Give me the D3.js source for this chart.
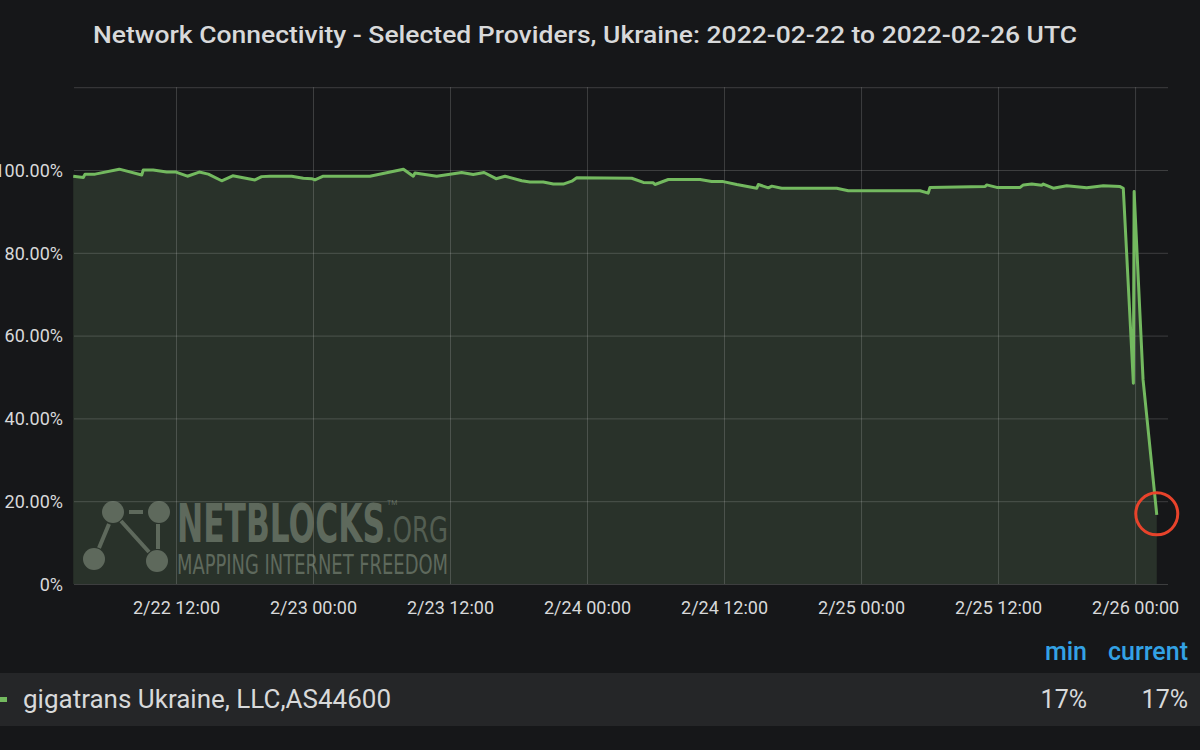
<!DOCTYPE html>
<html>
<head>
<meta charset="utf-8">
<script src="https://cdn.jsdelivr.net/npm/d3@7"></script>
<style>
  html, body { margin: 0; padding: 0; background: #161719; }
  svg { display: block; font-family: Roboto, "Open Sans", sans-serif; }
</style>
</head>
<body>
<svg class="chart"></svg>
<script>

// connectivity samples, gigatrans Ukraine (AS44600), UTC
var times = [
	"2022-02-22T03:00", "2022-02-22T03:53", "2022-02-22T04:02", "2022-02-22T04:55", "2022-02-22T07:02",
	"2022-02-22T09:00", "2022-02-22T09:08", "2022-02-22T10:00", "2022-02-22T11:11", "2022-02-22T12:00",
	"2022-02-22T13:00", "2022-02-22T14:02", "2022-02-22T14:50", "2022-02-22T16:00", "2022-02-22T16:58",
	"2022-02-22T18:55", "2022-02-22T19:30", "2022-02-22T20:14", "2022-02-22T22:08", "2022-02-22T23:09",
	"2022-02-22T23:53", "2022-02-23T00:10", "2022-02-23T00:54", "2022-02-23T04:59", "2022-02-23T07:55",
	"2022-02-23T08:47", "2022-02-23T08:56", "2022-02-23T10:50", "2022-02-23T13:01", "2022-02-23T14:02",
	"2022-02-23T14:59", "2022-02-23T16:02", "2022-02-23T16:49", "2022-02-23T18:17", "2022-02-23T19:00",
	"2022-02-23T20:10", "2022-02-23T21:03", "2022-02-23T21:55", "2022-02-23T22:40", "2022-02-23T23:06",
	"2022-02-24T03:55", "2022-02-24T04:56", "2022-02-24T05:48", "2022-02-24T05:57", "2022-02-24T07:07",
	"2022-02-24T09:54", "2022-02-24T10:55", "2022-02-24T11:56", "2022-02-24T13:07", "2022-02-24T14:52",
	"2022-02-24T15:00", "2022-02-24T15:53", "2022-02-24T16:11", "2022-02-24T17:03", "2022-02-24T21:52",
	"2022-02-24T22:53", "2022-02-25T05:10", "2022-02-25T05:53", "2022-02-25T06:02", "2022-02-25T10:52",
	"2022-02-25T11:00", "2022-02-25T11:53", "2022-02-25T13:56", "2022-02-25T14:13", "2022-02-25T14:57",
	"2022-02-25T15:49", "2022-02-25T15:58", "2022-02-25T16:50", "2022-02-25T18:01", "2022-02-25T19:46",
	"2022-02-25T21:13", "2022-02-25T22:41", "2022-02-25T22:58", "2022-02-25T23:51", "2022-02-25T23:55",
	"2022-02-26T00:42", "2022-02-26T01:54"
];

var connectivity = [
	98.5, 98.2, 99.0, 99.0, 100.2,
	98.8, 100.0, 100.0, 99.5, 99.5,
	98.5, 99.5, 99.0, 97.4, 98.6,
	97.6, 98.4, 98.5, 98.5, 98.0,
	97.9, 97.6, 98.5, 98.5, 100.2,
	98.5, 99.3, 98.5, 99.4, 98.9,
	99.4, 97.9, 98.5, 97.4, 97.1,
	97.1, 96.6, 96.6, 97.3, 98.1,
	98.0, 97.0, 96.9, 96.5, 97.7,
	97.7, 97.2, 97.2, 96.5, 95.6,
	96.5, 95.7, 96.1, 95.6, 95.6,
	95.0, 95.0, 94.4, 95.8, 96.0,
	96.4, 95.8, 95.8, 96.4, 96.6,
	96.3, 96.6, 95.6, 96.2, 95.7,
	96.2, 96.0, 95.6, 48.5, 94.8,
	49.3, 16.7
];

var timeRange = ["2022-02-22T03:04", "2022-02-26T02:53"];
var yGridValues = [0, 20, 40, 60, 80, 100, 120];
var yLabelValues = [0, 20, 40, 60, 80, 100];
var chartTitle = "Network Connectivity - Selected Providers, Ukraine: 2022-02-22 to 2022-02-26 UTC";
var seriesName = "gigatrans Ukraine, LLC,AS44600";
var legendColumns = ["min", "current"];

var width = 1200;
var height = 750;
var plotLeft = 74, plotRight = 1168, plotTop = 87.2, plotBottom = 584;

var lineColor = "#73b95f";
var textColor = "#d8d9da";

var parseTime = d3.utcParse("%Y-%m-%dT%H:%M");
var formatTick = d3.utcFormat("%-m/%d %H:%M");

var data = times.map(function(t, i) { return { date: parseTime(t), value: connectivity[i] }; });

var x = d3.scaleUtc().domain(timeRange.map(parseTime)).range([plotLeft, plotRight]);
var y = d3.scaleLinear().domain([0, 120]).range([plotBottom, plotTop]);

var svg = d3.select(".chart").attr("width", width).attr("height", height);

// title
svg.append("text")
	 .attr("x", 585)
	 .attr("y", 43)
	 .attr("text-anchor", "middle")
	 .attr("textLength", 984)
	 .attr("lengthAdjust", "spacingAndGlyphs")
	 .style("font-size", "23px")
	 .style("font-weight", 500)
	 .style("fill", textColor)
	 .text(chartTitle);

// area under the line
var area = d3.area()
	.x(function(d) { return x(d.date); })
	.y0(y(0))
	.y1(function(d) { return y(d.value); });

svg.append("path")
	 .datum(data)
	 .attr("d", area)
	 .style("fill", "#29322a");

// grid
var gridX = svg.append("g")
	 .attr("transform", "translate(0," + plotBottom + ")")
	 .call(d3.axisBottom(x).ticks(d3.utcHour.every(12)).tickSize(-(plotBottom - plotTop)).tickFormat(""));
var gridY = svg.append("g")
	 .attr("transform", "translate(" + plotLeft + ",0)")
	 .call(d3.axisLeft(y).tickValues(yGridValues).tickSize(-(plotRight - plotLeft)).tickFormat(""));
[gridX, gridY].forEach(function(g) {
	g.select(".domain").remove();
	g.selectAll("line").style("stroke", "#ffffff").style("stroke-opacity", 0.17);
});

// watermark
var wm = svg.append("g").style("fill", "#8a9686").style("opacity", 0.55);
var wmStroke = "#8a9686";
[[113, 512], [159, 512], [94, 559], [157, 561]].forEach(function(c) {
	wm.append("circle").attr("cx", c[0]).attr("cy", c[1]).attr("r", 11);
});
[[109, 524, 99, 548], [121, 521, 149, 552], [158, 524, 158, 549], [129, 512, 143, 512]].forEach(function(l) {
	wm.append("line")
		.attr("x1", l[0]).attr("y1", l[1]).attr("x2", l[2]).attr("y2", l[3])
		.style("stroke", wmStroke).style("stroke-width", 4);
});
wm.append("text")
	.attr("x", 177).attr("y", 542)
	.attr("textLength", 208).attr("lengthAdjust", "spacingAndGlyphs")
	.style("font-family", "'DejaVu Sans Condensed', 'Liberation Sans Narrow', sans-serif")
	.style("font-weight", "bold").style("font-size", "54px")
	.text("NETBLOCKS");
wm.append("text")
	.attr("x", 387).attr("y", 505)
	.style("font-size", "7px")
	.text("TM");
wm.append("text")
	.attr("x", 385).attr("y", 542)
	.attr("textLength", 63).attr("lengthAdjust", "spacingAndGlyphs")
	.style("font-family", "'DejaVu Sans Condensed', 'Liberation Sans Narrow', sans-serif")
	.style("font-size", "36px")
	.style("opacity", 0.8)
	.text(".ORG");
wm.append("text")
	.attr("x", 177).attr("y", 574)
	.attr("textLength", 271).attr("lengthAdjust", "spacingAndGlyphs")
	.style("font-family", "'Liberation Sans Narrow', 'DejaVu Sans Condensed', sans-serif")
	.style("font-size", "27px")
	.text("MAPPING INTERNET FREEDOM");

// the line
var line = d3.line()
	.x(function(d) { return x(d.date); })
	.y(function(d) { return y(d.value); });

svg.append("path")
	 .datum(data)
	 .attr("d", line)
	 .style("fill", "none")
	 .style("stroke", lineColor)
	 .style("stroke-width", 3)
	 .style("stroke-linejoin", "round");

// axes labels
var yAxis = svg.append("g")
	 .attr("transform", "translate(" + (plotLeft - 11) + ",0)")
	 .call(d3.axisLeft(y).tickValues(yLabelValues).tickSize(0)
		 .tickFormat(function(d) { return d === 0 ? "0%" : d.toFixed(2) + "%"; }));
var xAxis = svg.append("g")
	 .attr("transform", "translate(0," + (plotBottom + 10) + ")")
	 .call(d3.axisBottom(x).ticks(d3.utcHour.every(12)).tickSize(0).tickFormat(formatTick));
[xAxis, yAxis].forEach(function(g) {
	g.select(".domain").remove();
	g.selectAll("text")
	 .style("font-family", "Roboto, sans-serif")
	 .style("font-size", "18px")
	 .style("fill", textColor);
});
yAxis.selectAll("text").attr("x", 0).attr("dy", "0.35em");
xAxis.selectAll("text").attr("dy", "0.95em");

// red marker round the last point
var last = data[data.length - 1];
svg.append("circle")
	 .attr("cx", x(last.date))
	 .attr("cy", y(last.value) - 1)
	 .attr("r", 21)
	 .style("fill", "none")
	 .style("stroke", "#e8432b")
	 .style("stroke-width", 3);

// legend
var fmtPct = function(v) { return d3.format(".0f")(v) + "%"; };
var legendValues = [d3.min(connectivity), connectivity[connectivity.length - 1]];
var colRight = [1087, 1188];

svg.append("rect")
	 .attr("x", 0).attr("y", 673)
	 .attr("width", width).attr("height", 53)
	 .style("fill", "#252628");

svg.append("rect")
	 .attr("x", -6).attr("y", 697)
	 .attr("width", 13).attr("height", 5)
	 .style("fill", lineColor);

svg.append("text")
	 .attr("x", 23).attr("y", 708)
	 .style("font-size", "26px")
	 .style("fill", textColor)
	 .text(seriesName);

legendColumns.forEach(function(c, i) {
	svg.append("text")
		 .attr("x", colRight[i]).attr("y", 660)
		 .attr("text-anchor", "end")
		 .style("font-size", "25px")
		 .style("font-weight", 500)
		 .style("fill", "#33a2e5")
		 .text(c);
	svg.append("text")
		 .attr("x", colRight[i]).attr("y", 708)
		 .attr("text-anchor", "end")
		 .style("font-size", "25px")
		 .style("fill", textColor)
		 .text(fmtPct(legendValues[i]));
});

</script>
</body>
</html>
